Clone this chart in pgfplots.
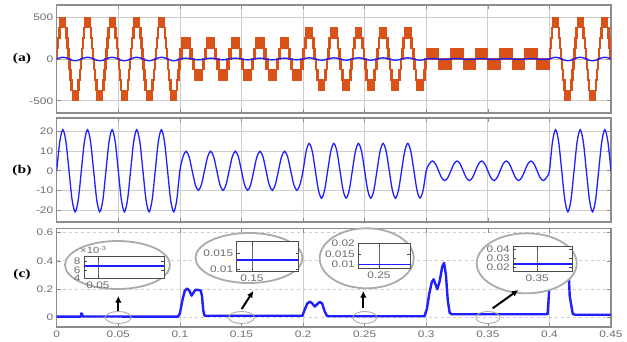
\documentclass[border=0pt]{standalone}
\usepackage{pgfplots}
\pgfplotsset{compat=1.18}
\usepackage{pgfplotstable}
\usetikzlibrary{arrows.meta}
\usepackage{fontspec}
\setmainfont{Liberation Sans}[FakeStretch=1.25]
\newfontfamily\lblfont{Liberation Serif}[FakeStretch=1.3]
\definecolor{orng}{HTML}{D95319}
\definecolor{tickgray}{HTML}{6E6E6E}
\definecolor{framegray}{HTML}{8C8C8C}
\definecolor{gridgray}{HTML}{CDCDCD}
\definecolor{ellgray}{HTML}{ABABAB}
\definecolor{myblue}{HTML}{1F1FFF}

% inverter voltage: staircase bands (hi = outer level, lo = inner level)
\pgfplotstableread[row sep=\\]{
t hi lo\\
0 125 0\\ 0.0008 250 125\\ 0.00167 375 250\\ 0.0027 500 375\\ 0.0073 375 250\\ 0.00833 250 125\\ 0.0092 125 0\\
0.01 -125 0\\ 0.0108 -250 -125\\ 0.01167 -375 -250\\ 0.0127 -500 -375\\ 0.0173 -375 -250\\ 0.01833 -250 -125\\ 0.0192 -125 0\\
0.02 125 0\\ 0.0208 250 125\\ 0.02167 375 250\\ 0.0227 500 375\\ 0.0273 375 250\\ 0.02833 250 125\\ 0.0292 125 0\\
0.03 -125 0\\ 0.0308 -250 -125\\ 0.03167 -375 -250\\ 0.0327 -500 -375\\ 0.0373 -375 -250\\ 0.03833 -250 -125\\ 0.0392 -125 0\\
0.04 125 0\\ 0.0408 250 125\\ 0.04167 375 250\\ 0.0427 500 375\\ 0.0473 375 250\\ 0.04833 250 125\\ 0.0492 125 0\\
0.05 -125 0\\ 0.0508 -250 -125\\ 0.05167 -375 -250\\ 0.0527 -500 -375\\ 0.0573 -375 -250\\ 0.05833 -250 -125\\ 0.0592 -125 0\\
0.06 125 0\\ 0.0608 250 125\\ 0.06167 375 250\\ 0.0627 500 375\\ 0.0673 375 250\\ 0.06833 250 125\\ 0.0692 125 0\\
0.07 -125 0\\ 0.0708 -250 -125\\ 0.07167 -375 -250\\ 0.0727 -500 -375\\ 0.0773 -375 -250\\ 0.07833 -250 -125\\ 0.0792 -125 0\\
0.08 125 0\\ 0.0808 250 125\\ 0.08167 375 250\\ 0.0827 500 375\\ 0.0873 375 250\\ 0.08833 250 125\\ 0.0892 125 0\\
0.09 -125 0\\ 0.0908 -250 -125\\ 0.09167 -375 -250\\ 0.0927 -500 -375\\ 0.0973 -375 -250\\ 0.09833 -250 -125\\ 0.0992 -125 0\\
0.1 125 0\\ 0.10167 250 125\\ 0.10833 125 0\\
0.11 -125 0\\ 0.11167 -250 -125\\ 0.11833 -125 0\\
0.12 125 0\\ 0.12167 250 125\\ 0.12833 125 0\\
0.13 -125 0\\ 0.13167 -250 -125\\ 0.13833 -125 0\\
0.14 125 0\\ 0.14167 250 125\\ 0.14833 125 0\\
0.15 -125 0\\ 0.15167 -250 -125\\ 0.15833 -125 0\\
0.16 125 0\\ 0.16167 250 125\\ 0.16833 125 0\\
0.17 -125 0\\ 0.17167 -250 -125\\ 0.17833 -125 0\\
0.18 125 0\\ 0.18167 250 125\\ 0.18833 125 0\\
0.19 -125 0\\ 0.19167 -250 -125\\ 0.19833 -125 0\\
0.2 125 0\\ 0.20108 250 125\\ 0.20232 375 250\\ 0.20768 250 125\\ 0.20892 125 0\\
0.21 -125 0\\ 0.21108 -250 -125\\ 0.21232 -375 -250\\ 0.21768 -250 -125\\ 0.21892 -125 0\\
0.22 125 0\\ 0.22108 250 125\\ 0.22232 375 250\\ 0.22768 250 125\\ 0.22892 125 0\\
0.23 -125 0\\ 0.23108 -250 -125\\ 0.23232 -375 -250\\ 0.23768 -250 -125\\ 0.23892 -125 0\\
0.24 125 0\\ 0.24108 250 125\\ 0.24232 375 250\\ 0.24768 250 125\\ 0.24892 125 0\\
0.25 -125 0\\ 0.25108 -250 -125\\ 0.25232 -375 -250\\ 0.25768 -250 -125\\ 0.25892 -125 0\\
0.26 125 0\\ 0.26108 250 125\\ 0.26232 375 250\\ 0.26768 250 125\\ 0.26892 125 0\\
0.27 -125 0\\ 0.27108 -250 -125\\ 0.27232 -375 -250\\ 0.27768 -250 -125\\ 0.27892 -125 0\\
0.28 125 0\\ 0.28108 250 125\\ 0.28232 375 250\\ 0.28768 250 125\\ 0.28892 125 0\\
0.29 -125 0\\ 0.29108 -250 -125\\ 0.29232 -375 -250\\ 0.29768 -250 -125\\ 0.29892 -125 0\\
0.3 125 0\\ 0.31 -125 0\\ 0.32 125 0\\ 0.33 -125 0\\ 0.34 125 0\\
0.35 -125 0\\ 0.36 125 0\\ 0.37 -125 0\\ 0.38 125 0\\ 0.39 -125 0\\
0.4 125 0\\ 0.4008 250 125\\ 0.40167 375 250\\ 0.4027 500 375\\ 0.4073 375 250\\ 0.40833 250 125\\ 0.4092 125 0\\
0.41 -125 0\\ 0.4108 -250 -125\\ 0.41167 -375 -250\\ 0.4127 -500 -375\\ 0.4173 -375 -250\\ 0.41833 -250 -125\\ 0.4192 -125 0\\
0.42 125 0\\ 0.4208 250 125\\ 0.42167 375 250\\ 0.4227 500 375\\ 0.4273 375 250\\ 0.42833 250 125\\ 0.4292 125 0\\
0.43 -125 0\\ 0.4308 -250 -125\\ 0.43167 -375 -250\\ 0.4327 -500 -375\\ 0.4373 -375 -250\\ 0.43833 -250 -125\\ 0.4392 -125 0\\
0.44 125 0\\ 0.4408 250 125\\ 0.44167 375 250\\ 0.4427 500 375\\ 0.4473 375 250\\ 0.44833 250 125\\ 0.4492 125 0\\
0.45 125 0\\
}\volt

% current
\pgfplotstableread[row sep=\\]{
t i\\
0 0\\ 0.0025 14.85\\ 0.005 21\\ 0.0075 14.85\\ 0.01 0\\ 0.0125 -14.85\\ 0.015 -21\\ 0.0175 -14.85\\
0.02 0\\ 0.0225 14.85\\ 0.025 21\\ 0.0275 14.85\\ 0.03 0\\ 0.0325 -14.85\\ 0.035 -21\\ 0.0375 -14.85\\
0.04 0\\ 0.0425 14.85\\ 0.045 21\\ 0.0475 14.85\\ 0.05 0\\ 0.0525 -14.85\\ 0.055 -21\\ 0.0575 -14.85\\
0.06 0\\ 0.0625 14.85\\ 0.065 21\\ 0.0675 14.85\\ 0.07 0\\ 0.0725 -14.85\\ 0.075 -21\\ 0.0775 -14.85\\
0.08 0\\ 0.0825 14.85\\ 0.085 21\\ 0.0875 14.85\\ 0.09 0\\ 0.0925 -14.85\\ 0.095 -21\\ 0.0975 -14.85\\
0.1 0\\ 0.1025 7.07\\ 0.105 10\\ 0.1075 7.07\\ 0.11 0\\ 0.1125 -7.07\\ 0.115 -10\\ 0.1175 -7.07\\
0.12 0\\ 0.1225 7.07\\ 0.125 10\\ 0.1275 7.07\\ 0.13 0\\ 0.1325 -7.07\\ 0.135 -10\\ 0.1375 -7.07\\
0.14 0\\ 0.1425 7.07\\ 0.145 10\\ 0.1475 7.07\\ 0.15 0\\ 0.1525 -7.07\\ 0.155 -10\\ 0.1575 -7.07\\
0.16 0\\ 0.1625 7.07\\ 0.165 10\\ 0.1675 7.07\\ 0.17 0\\ 0.1725 -7.07\\ 0.175 -10\\ 0.1775 -7.07\\
0.18 0\\ 0.1825 7.07\\ 0.185 10\\ 0.1875 7.07\\ 0.19 0\\ 0.1925 -7.07\\ 0.195 -10\\ 0.1975 -7.07\\
0.2 0\\ 0.2025 9.9\\ 0.205 14\\ 0.2075 9.9\\ 0.21 0\\ 0.2125 -9.9\\ 0.215 -14\\ 0.2175 -9.9\\
0.22 0\\ 0.2225 9.9\\ 0.225 14\\ 0.2275 9.9\\ 0.23 0\\ 0.2325 -9.9\\ 0.235 -14\\ 0.2375 -9.9\\
0.24 0\\ 0.2425 9.9\\ 0.245 14\\ 0.2475 9.9\\ 0.25 0\\ 0.2525 -9.9\\ 0.255 -14\\ 0.2575 -9.9\\
0.26 0\\ 0.2625 9.9\\ 0.265 14\\ 0.2675 9.9\\ 0.27 0\\ 0.2725 -9.9\\ 0.275 -14\\ 0.2775 -9.9\\
0.28 0\\ 0.2825 9.9\\ 0.285 14\\ 0.2875 9.9\\ 0.29 0\\ 0.2925 -9.9\\ 0.295 -14\\ 0.2975 -9.9\\
0.3 0\\ 0.3025 3.54\\ 0.305 5\\ 0.3075 3.54\\ 0.31 0\\ 0.3125 -3.54\\ 0.315 -5\\ 0.3175 -3.54\\
0.32 0\\ 0.3225 3.54\\ 0.325 5\\ 0.3275 3.54\\ 0.33 0\\ 0.3325 -3.54\\ 0.335 -5\\ 0.3375 -3.54\\
0.34 0\\ 0.3425 3.54\\ 0.345 5\\ 0.3475 3.54\\ 0.35 0\\ 0.3525 -3.54\\ 0.355 -5\\ 0.3575 -3.54\\
0.36 0\\ 0.3625 3.54\\ 0.365 5\\ 0.3675 3.54\\ 0.37 0\\ 0.3725 -3.54\\ 0.375 -5\\ 0.3775 -3.54\\
0.38 0\\ 0.3825 3.54\\ 0.385 5\\ 0.3875 3.54\\ 0.39 0\\ 0.3925 -3.54\\ 0.395 -5\\ 0.3975 -3.54\\
0.4 0\\ 0.4025 14.85\\ 0.405 21\\ 0.4075 14.85\\ 0.41 0\\ 0.4125 -14.85\\ 0.415 -21\\ 0.4175 -14.85\\
0.42 0\\ 0.4225 14.85\\ 0.425 21\\ 0.4275 14.85\\ 0.43 0\\ 0.4325 -14.85\\ 0.435 -21\\ 0.4375 -14.85\\
0.44 0\\ 0.4425 14.85\\ 0.445 21\\ 0.4475 14.85\\ 0.45 0\\
}\curr

% panel (c)
\pgfplotstableread[row sep=\\]{
t p\\
0 0.007\\ 0.0195 0.007\\ 0.0200 0.03\\ 0.0207 0.025\\ 0.0212 0.008\\
0.0985 0.007\\ 0.1000 0.03\\ 0.1020 0.12\\ 0.1040 0.19\\ 0.1060 0.205\\ 0.1080 0.185\\ 0.1095 0.155\\
0.1110 0.175\\ 0.1125 0.195\\ 0.1150 0.195\\ 0.1170 0.19\\ 0.1180 0.15\\ 0.1190 0.05\\ 0.1200 0.015\\ 0.1210 0.013\\
0.1995 0.013\\ 0.2015 0.06\\ 0.2035 0.10\\ 0.2055 0.113\\ 0.2075 0.10\\ 0.2095 0.078\\ 0.2115 0.095\\
0.2135 0.11\\ 0.2155 0.10\\ 0.2175 0.045\\ 0.2195 0.012\\ 0.2210 0.010\\
0.2985 0.010\\ 0.3005 0.06\\ 0.3025 0.17\\ 0.3045 0.25\\ 0.3060 0.27\\ 0.3075 0.235\\ 0.3090 0.20\\
0.3110 0.26\\ 0.3130 0.36\\ 0.3145 0.385\\ 0.3160 0.30\\ 0.3175 0.12\\ 0.3190 0.035\\ 0.3205 0.024\\
0.3985 0.024\\ 0.3995 0.15\\ 0.4010 0.35\\ 0.4050 0.45\\ 0.4100 0.45\\ 0.4140 0.40\\ 0.4155 0.35\\ 0.4165 0.15\\
0.4190 0.025\\ 0.4210 0.02\\ 0.4500 0.02\\
}\thd

\pgfplotsset{
  base/.style={
    scale only axis, width=554.3pt, xmin=0, xmax=0.45, anchor=south west,
    axis line style={framegray, line width=1.1pt},
    tick style={framegray, line width=0.6pt},
    major tick length=4pt, minor tick length=4pt, tick align=inside,
    tick label style={font=\fontsize{9.5}{10}\selectfont, text=tickgray},
    /pgf/number format/assume math mode=true, scaled ticks=false,
    xtick={0,0.05,0.1,0.15,0.2,0.25,0.3,0.35,0.4,0.45},
    grid style={gridgray, line width=0.7pt},
  },
  inset/.style={
    scale only axis, anchor=south west, scaled ticks=false,
    axis line style={black!70, line width=0.8pt},
    tick style={black!70, line width=0.6pt},
    major tick length=3pt, tick align=inside,
    xmajorgrids, major x grid style={black!60, line width=0.6pt},
    tick label style={font=\fontsize{9.5}{10}\selectfont, text=tickgray},
    /pgf/number format/assume math mode=true,
    axis background/.style={fill=white},
  },
}

\begin{document}
\begin{tikzpicture}
\useasboundingbox (0,0) rectangle (627pt,341pt);

% (a)
\begin{axis}[base, at={(56.7pt,228pt)}, height=108pt,
  ymin=-646, ymax=646, ytick={-500,0,500}, yticklabels={-500,0,500},
  xticklabels={}, xmajorgrids, ymajorgrids]
\addplot[ybar interval, fill=orng, draw=none] table[x=t,y=hi]{\volt};
\addplot[ybar interval, fill=white, draw=none] table[x=t,y=lo]{\volt};
\addplot[const plot, draw=orng, line width=1.3pt] table[x=t,y=hi]{\volt};
\addplot[const plot, draw=orng, line width=1.3pt] table[x=t,y=lo]{\volt};
\addplot[myblue, line width=1.4pt, smooth] table[x=t,y=i]{\curr};
\end{axis}

% (b)
\begin{axis}[base, at={(56.7pt,119pt)}, height=104pt,
  ymin=-26.2, ymax=27, ytick={-20,-10,0,10,20}, yticklabels={-20,-10,0,10,20},
  xticklabels={}, xmajorgrids, ymajorgrids]
\addplot[myblue, line width=1.3pt, smooth] table[x=t,y=i]{\curr};
\end{axis}

% (c)
\begin{axis}[base, at={(56.7pt,14pt)}, height=98.3pt,
  ymin=-0.066, ymax=0.626, ytick={0,0.2,0.4,0.6}, yticklabels={0,0.2,0.4,0.6},
  xticklabels={0,0.05,0.1,0.15,0.2,0.25,0.3,0.35,0.4,0.45},
  minor xtick={0.1,0.2,0.3,0.4}, xminorgrids, ymajorgrids,
  minor x grid style={gridgray, line width=0.7pt},
  major y grid style={gridgray, line width=0.7pt, dashed}]
\addplot[myblue, line width=2.4pt, line join=round] table[x=t,y=p]{\thd};
\end{axis}

% panel labels
\node[font=\lblfont\bfseries\fontsize{12}{14}\selectfont] at (22pt,282pt) {(a)};
\node[font=\lblfont\bfseries\fontsize{12}{14}\selectfont] at (22pt,170pt) {(b)};
\node[font=\lblfont\bfseries\fontsize{12}{14}\selectfont] at (22pt,66pt) {(c)};

% zoom ellipses
\filldraw[fill=white, draw=ellgray, line width=1.8pt] (117.5pt,76pt) ellipse [x radius=52.5pt, y radius=24pt];
\filldraw[fill=white, draw=ellgray, line width=1.8pt] (249pt,83pt) ellipse [x radius=53.5pt, y radius=25pt];
\filldraw[fill=white, draw=ellgray, line width=1.8pt] (366.7pt,82.7pt) ellipse [x radius=47pt, y radius=30pt];
\filldraw[fill=white, draw=ellgray, line width=1.8pt] (526.7pt,77.7pt) ellipse [x radius=50pt, y radius=30pt];

% insets
\begin{axis}[inset, at={(84pt,62.7pt)}, width=80pt, height=21.6pt,
  xmin=0.045, xmax=0.0737, ymin=0.004, ymax=0.0092,
  xtick={0.05}, xticklabels={0.05}, ytick={0.004,0.006,0.008}, yticklabels={4,6,8}]
\addplot[myblue, line width=1.6pt] coordinates {(0.045,0.0069) (0.0737,0.0069)};
\end{axis}
\node[anchor=west, font=\fontsize{9}{10}\selectfont, text=tickgray, inner sep=0pt] at (80pt,91pt) {×10\textsuperscript{-3}};

\begin{axis}[inset, at={(236.7pt,69.3pt)}, width=62pt, height=30pt,
  xmin=0.145, xmax=0.1653, ymin=0.00925, ymax=0.01863,
  xtick={0.15}, xticklabels={0.15}, ytick={0.01,0.015}, yticklabels={0.01,0.015}]
\addplot[myblue, line width=1.6pt] coordinates {(0.145,0.0129) (0.1653,0.0129)};
\end{axis}

\begin{axis}[inset, at={(358.3pt,72.7pt)}, width=51.7pt, height=25pt,
  xmin=0.245, xmax=0.2575, ymin=0.0081, ymax=0.0202,
  xtick={0.25}, xticklabels={0.25}, ytick={0.01,0.015,0.02}, yticklabels={0.01,0.015,0.02}]
\addplot[myblue, line width=1.6pt] coordinates {(0.245,0.01) (0.2575,0.01)};
\end{axis}

\begin{axis}[inset, at={(513.3pt,69.3pt)}, width=59pt, height=25pt,
  xmin=0.345, xmax=0.3573, ymin=0.0154, ymax=0.0425,
  xtick={0.35}, xticklabels={0.35}, ytick={0.02,0.03,0.04}, yticklabels={0.02,0.03,0.04}]
\addplot[myblue, line width=1.6pt] coordinates {(0.345,0.024) (0.3573,0.024)};
\end{axis}

% small ellipses at the zoomed spots
\draw[ellgray, line width=0.9pt] (118.3pt,23.5pt) ellipse [x radius=13pt, y radius=6pt];
\draw[ellgray, line width=0.9pt] (241.5pt,23.5pt) ellipse [x radius=13pt, y radius=6pt];
\draw[ellgray, line width=0.9pt] (364.7pt,23.5pt) ellipse [x radius=12pt, y radius=6pt];
\draw[ellgray, line width=0.9pt] (487.9pt,23.5pt) ellipse [x radius=12pt, y radius=6pt];

% arrows
\draw[-{Latex[length=6.5pt,width=6.5pt]}, line width=2pt] (118.3pt,30pt) -- (118.3pt,45pt);
\draw[-{Latex[length=6.5pt,width=6.5pt]}, line width=2pt] (241.7pt,32pt) -- (253.3pt,50pt);
\draw[-{Latex[length=6.5pt,width=6.5pt]}, line width=2pt] (363.3pt,33pt) -- (363.3pt,50pt);
\draw[-{Latex[length=6.5pt,width=6.5pt]}, line width=2pt] (492.7pt,32.7pt) -- (518.3pt,51pt);
\end{tikzpicture}
\end{document}
